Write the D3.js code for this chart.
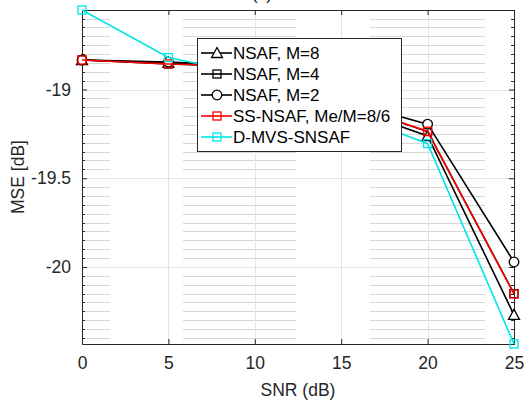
<!DOCTYPE html>
<html>
<head>
<meta charset="utf-8">
<script src="https://cdn.jsdelivr.net/npm/d3@7"></script>
<style>
  body { margin: 0; background: #fff; }
  svg { display: block; font-family: "Liberation Sans", Arial, sans-serif; }
</style>
</head>
<body>
<svg id="chart"></svg>
<script>
// SNR values (x axis)
var snr = [0, 5, 10, 15, 20, 25];

// MSE in dB for each algorithm
var nsafM8 = [-18.834, -18.850, -18.880, -19.090, -19.262, -20.270];
var nsafM4 = [-18.834, -18.856, -18.870, -19.075, -19.237, -20.150];
var nsafM2 = [-18.834, -18.845, -18.865, -19.060, -19.195, -19.972];
var ssNsaf = [-18.834, -18.856, -18.870, -19.075, -19.235, -20.152];
var dMvs   = [-18.552, -18.820, -18.920, -19.120, -19.305, -20.434];

var xTicks = [0, 5, 10, 15, 20, 25];
var yTicks = [-19, -19.5, -20];
var yTickLabels = ["-19", "-19.5", "-20"];

var seriesNames = ["NSAF, M=8", "NSAF, M=4", "NSAF, M=2", "SS-NSAF, Me/M=8/6", "D-MVS-SNSAF"];

var series = [
  { name: seriesNames[0], values: nsafM8, color: "#000000", marker: "triangle" },
  { name: seriesNames[1], values: nsafM4, color: "#000000", marker: "square" },
  { name: seriesNames[2], values: nsafM2, color: "#000000", marker: "circle" },
  { name: seriesNames[3], values: ssNsaf, color: "#ff0000", marker: "square" },
  { name: seriesNames[4], values: dMvs,   color: "#00e5e5", marker: "square" }
];

var W = 526, H = 402;
var margin = { top: 10, right: 12, bottom: 58, left: 82 };
var width = W - margin.left - margin.right;
var height = H - margin.top - margin.bottom;
var axisColor = "#262626";

var svg = d3.select("#chart").attr("width", W).attr("height", H);

var allVals = d3.merge(series.map(function(s) { return s.values; }));
var x = d3.scaleLinear().domain([0, 25]).range([0, width]);
var y = d3.scaleLinear().domain(d3.extent(allVals)).range([height, 0]);

var g = svg.append("g").attr("transform", "translate(" + margin.left + "," + margin.top + ")");

// minor horizontal grid (dotted in original, shows as faded segments)
var minorTicks = d3.range(-20.4, -18.55, 0.05).filter(function(v) {
  return yTicks.every(function(t) { return Math.abs(t - v) > 0.01; });
});
g.append("g").selectAll("line")
  .data(minorTicks)
  .enter().append("line")
  .attr("x1", 0).attr("x2", width)
  .attr("y1", function(d) { return Math.round(y(d)) + 0.5; })
  .attr("y2", function(d) { return Math.round(y(d)) + 0.5; })
  .attr("stroke", "#d6d6d6")
  .attr("stroke-dasharray", "28,73,113,74,115,40");

// major grid
g.append("g").selectAll("line")
  .data(xTicks.slice(1, -1))
  .enter().append("line")
  .attr("x1", function(d) { return Math.round(x(d)) + 0.5; })
  .attr("x2", function(d) { return Math.round(x(d)) + 0.5; })
  .attr("y1", 0).attr("y2", height)
  .attr("stroke", "#e3e3e3");
g.append("g").selectAll("line")
  .data(yTicks)
  .enter().append("line")
  .attr("x1", 0).attr("x2", width)
  .attr("y1", function(d) { return Math.round(y(d)) + 0.5; })
  .attr("y2", function(d) { return Math.round(y(d)) + 0.5; })
  .attr("stroke", "#e3e3e3");

// axes box with inward ticks
var xAxis = d3.axisBottom(x).tickValues(xTicks).tickSize(-5).tickPadding(13).tickFormat(d3.format("d"));
var xAxisTop = d3.axisTop(x).tickValues(xTicks).tickSize(-5).tickFormat("");
var yAxis = d3.axisLeft(y).tickValues(yTicks).tickSize(-5).tickPadding(11)
  .tickFormat(function(d, i) { return yTickLabels[i]; });
var yAxisRight = d3.axisRight(y).tickValues(yTicks).tickSize(-5).tickFormat("");

function styleAxis(sel) {
  sel.selectAll("path").attr("stroke", axisColor);
  sel.selectAll("line").attr("stroke", axisColor);
  sel.selectAll("text").attr("fill", axisColor).style("font-size", "17.5px");
}

g.append("g").attr("transform", "translate(0," + height + ")").call(xAxis).call(styleAxis);
g.append("g").call(xAxisTop).call(styleAxis);
g.append("g").call(yAxis).call(styleAxis);
g.append("g").attr("transform", "translate(" + width + ",0)").call(yAxisRight).call(styleAxis);

// minor y ticks on both sides
var minorTickG = g.append("g");
minorTicks.forEach(function(v) {
  var yy = Math.round(y(v)) + 0.5;
  minorTickG.append("line").attr("x1", 0).attr("x2", 3).attr("y1", yy).attr("y2", yy).attr("stroke", axisColor);
  minorTickG.append("line").attr("x1", width - 3).attr("x2", width).attr("y1", yy).attr("y2", yy).attr("stroke", axisColor);
});

// lines and markers
var line = d3.line()
  .x(function(d, i) { return x(snr[i]); })
  .y(function(d) { return y(d); });

function drawMarker(sel, type, color) {
  if (type === "square") {
    sel.append("rect").attr("x", -4).attr("y", -4).attr("width", 8).attr("height", 8)
      .attr("fill", "none").attr("stroke", color).attr("stroke-width", 1.3);
  } else if (type === "circle") {
    sel.append("circle").attr("r", 4.8)
      .attr("fill", "#fff").attr("stroke", color).attr("stroke-width", 1.3);
  } else {
    sel.append("path").attr("d", "M0,-5.5L5.5,4.5L-5.5,4.5Z")
      .attr("fill", "#fff").attr("stroke", color).attr("stroke-width", 1.3);
  }
}

series.forEach(function(s) {
  g.append("path")
    .datum(s.values)
    .attr("fill", "none")
    .attr("stroke", s.color)
    .attr("stroke-width", 1.6)
    .attr("d", line);
  g.append("g").selectAll("g")
    .data(s.values)
    .enter().append("g")
    .attr("transform", function(d, i) { return "translate(" + x(snr[i]) + "," + y(d) + ")"; })
    .each(function() { drawMarker(d3.select(this), s.marker, s.color); });
});

// legend
var legend = svg.append("g").attr("transform", "translate(197,38)");
legend.append("rect").attr("x", 0.5).attr("y", 0.5).attr("width", 204).attr("height", 113)
  .attr("fill", "#fff").attr("stroke", axisColor).attr("stroke-width", 1);
series.forEach(function(s, i) {
  var row = legend.append("g").attr("transform", "translate(0," + (15 + i * 21) + ")");
  row.append("line").attr("x1", 4).attr("x2", 35).attr("y1", 0).attr("y2", 0)
    .attr("stroke", s.color).attr("stroke-width", 1.6);
  drawMarker(row.append("g").attr("transform", "translate(20,0)"), s.marker, s.color);
  row.append("text").attr("x", 36).attr("y", 6)
    .attr("fill", "#000").style("font-size", "17px")
    .text(s.name);
});

// axis labels
svg.append("text")
  .attr("x", margin.left + width / 2).attr("y", 396)
  .attr("text-anchor", "middle").attr("fill", axisColor)
  .style("font-size", "17.5px")
  .text("SNR (dB)");
svg.append("text")
  .attr("transform", "translate(24," + (margin.top + height / 2) + ") rotate(-90)")
  .attr("text-anchor", "middle").attr("fill", axisColor)
  .style("font-size", "17.5px")
  .text("MSE [dB]");

// panel title, mostly cut off at the top as in the original figure
svg.append("text")
  .attr("x", 262).attr("y", -1)
  .attr("text-anchor", "middle").attr("fill", axisColor)
  .style("font-size", "17.5px")
  .text("(c)");
</script>
</body>
</html>
